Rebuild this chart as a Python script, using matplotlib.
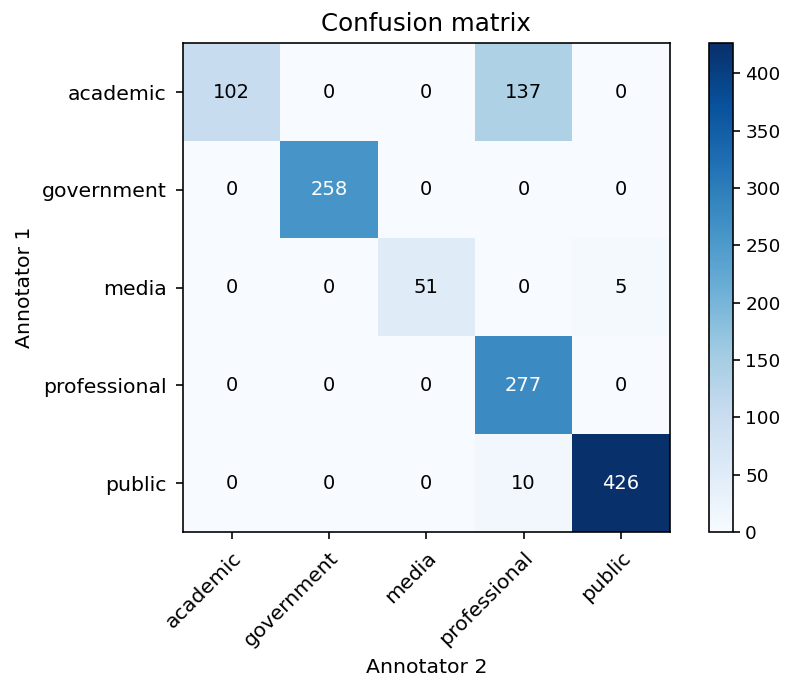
import numpy as np
import matplotlib.pyplot as plt

# 类别与混淆矩阵数值
classes = ['academic', 'government', 'media', 'professional', 'public']
cm = np.array([
    [102, 0, 0, 137, 0],
    [0, 258, 0, 0, 0],
    [0, 0, 51, 0, 5],
    [0, 0, 0, 277, 0],
    [0, 0, 0, 10, 426],
])
cbar_ticks = [0, 50, 100, 150, 200, 250, 300, 350, 400]

s = 1.47  # 整体放大比例
plt.rcParams.update({
    'font.size': 10 * s,
    'xtick.major.size': 3.5 * s, 'ytick.major.size': 3.5 * s,
    'xtick.major.pad': 6.5, 'ytick.major.pad': 6.5,
    'xtick.major.width': 0.8 * s, 'ytick.major.width': 0.8 * s,
    'axes.linewidth': 0.8 * s,
    'axes.labelpad': 4.0 * s,
    'axes.titlepad': 6.0 * s,
})

fig = plt.figure(figsize=(7.85, 6.77), dpi=100)
ax = fig.add_axes([0.233, 0.214, 0.62, 0.722])
cax = fig.add_axes([0.903, 0.214, 0.031, 0.722])

im = ax.imshow(cm, interpolation='nearest', cmap=plt.cm.Blues, aspect='auto')
ax.set_title('Confusion matrix')
cb = fig.colorbar(im, cax=cax)
cb.set_ticks(cbar_ticks)
cb.outline.set_linewidth(0.8 * s)
cax.tick_params(labelsize=13.3, pad=3.5)

ticks = np.arange(len(classes))
ax.set_xticks(ticks)
ax.set_xticklabels(classes, rotation=45, ha='right', rotation_mode='anchor')
ax.set_yticks(ticks)
ax.set_yticklabels(classes)

thresh = cm.max() / 2.
for i in range(cm.shape[0]):
    for j in range(cm.shape[1]):
        ax.text(j, i, format(cm[i, j], 'd'),
                ha='center', va='center', fontsize=14,
                color='white' if cm[i, j] > thresh else 'black')

ax.set_ylabel('Annotator 1')
ax.set_xlabel('Annotator 2')

fig.savefig('out.png', dpi=100)
